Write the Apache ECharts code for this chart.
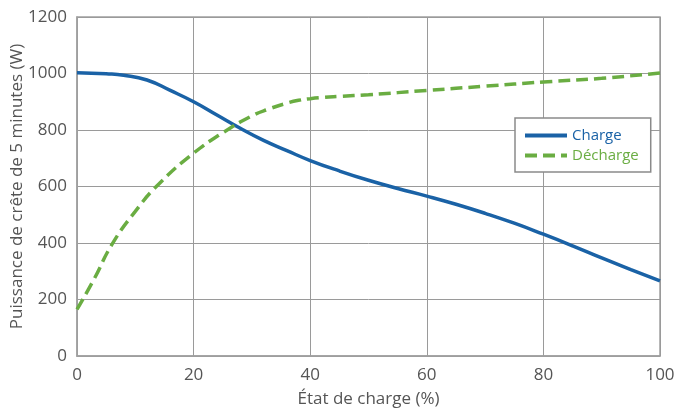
<!DOCTYPE html>
<html>
<head>
<meta charset="utf-8">
<script src="https://cdn.jsdelivr.net/npm/echarts@6/dist/echarts.min.js"></script>
<style>
html,body{margin:0;padding:0;background:#fff;}
#chart{width:676px;height:408px;}
</style>
</head>
<body>
<div id="chart"></div>
<script>
var chargeSoc = [0, 5, 8, 12, 16, 20, 24, 28, 32, 36, 40, 45, 50, 55, 60, 65, 70, 75, 80, 85, 90, 95, 100];
var chargePower = [1003, 999, 994, 977, 940, 900, 853, 806, 763, 727, 692, 655, 622, 593, 566, 537, 505, 470, 431, 390, 347, 306, 266];
var dischargeSoc = [0, 3, 6, 10, 14, 20, 25, 30, 33, 36, 38, 40, 42, 45, 50, 60, 70, 80, 90, 100];
var dischargePower = [165, 275, 395, 512, 608, 718, 790, 850, 875, 895, 905, 911, 915, 919, 925, 940, 955, 970, 983, 1002];
var xTicks = [0, 20, 40, 60, 80, 100];
var yTicks = [0, 200, 400, 600, 800, 1000, 1200];
var seriesNames = ['Charge', 'Décharge'];
var xTitle = 'État de charge (%)';
var yTitle = 'Puissance de crête de 5 minutes (W)';

var blue = '#1a62a6';
var green = '#6aad42';
var font = 'Open Sans';

function pairs(xs, ys) { return xs.map(function (x, i) { return [x, ys[i]]; }); }

var chart = echarts.init(document.getElementById('chart'), null, {renderer: 'canvas'});
chart.setOption({
  animation: false,
  textStyle: {fontFamily: font},
  grid: {left: 77, right: 16, top: 17, bottom: 52, show: true, borderColor: '#a0a0a0', borderWidth: 1.5, outerBoundsMode: 'none', containLabel: false},
  legend: {
    orient: 'vertical',
    left: 515, top: 118,
    padding: [10, 12, 9, 8],
    itemGap: 5,
    itemWidth: 42, itemHeight: 14,
    backgroundColor: '#fff',
    borderColor: '#8a8a8a', borderWidth: 1.5, borderRadius: 0,
    itemStyle: {opacity: 0},
    lineStyle: {width: 4},
    data: [
      {name: seriesNames[0], textStyle: {color: blue}},
      {name: seriesNames[1], textStyle: {color: green}}
    ],
    textStyle: {fontSize: 15, fontFamily: font}
  },
  xAxis: {
    type: 'value', min: xTicks[0], max: xTicks[xTicks.length - 1], interval: 20,
    name: xTitle, nameLocation: 'middle', nameGap: 35, nameMoveOverlap: false,
    nameTextStyle: {fontSize: 17, color: '#555', fontFamily: font},
    axisLine: {show: true, lineStyle: {color: '#a0a0a0', width: 1.5}},
    axisTick: {show: false},
    axisLabel: {fontSize: 17, color: '#555', margin: 11, fontFamily: font, formatter: function (v) { return String(v); }},
    splitLine: {show: true, lineStyle: {color: '#9a9a9a', width: 1}}
  },
  yAxis: {
    type: 'value', min: yTicks[0], max: yTicks[yTicks.length - 1], interval: 200,
    name: yTitle, nameLocation: 'middle', nameGap: 51, nameMoveOverlap: false,
    nameTextStyle: {fontSize: 17, color: '#555', fontFamily: font},
    axisLine: {show: true, lineStyle: {color: '#a0a0a0', width: 1.5}},
    axisTick: {show: false},
    axisLabel: {fontSize: 17, color: '#555', margin: 10, fontFamily: font, formatter: function (v) { return String(v); }},
    splitLine: {show: true, lineStyle: {color: '#9a9a9a', width: 1}}
  },
  series: [
    {
      name: seriesNames[0], type: 'line', data: pairs(chargeSoc, chargePower),
      smooth: 0.5, symbol: 'none', showSymbol: false,
      itemStyle: {color: blue},
      lineStyle: {color: blue, width: 3.5}
    },
    {
      name: seriesNames[1], type: 'line', data: pairs(dischargeSoc, dischargePower),
      smooth: 0.5, symbol: 'none', showSymbol: false,
      itemStyle: {color: green},
      lineStyle: {color: green, width: 3.5, type: [12, 6]}
    }
  ]
});
</script>
</body>
</html>
